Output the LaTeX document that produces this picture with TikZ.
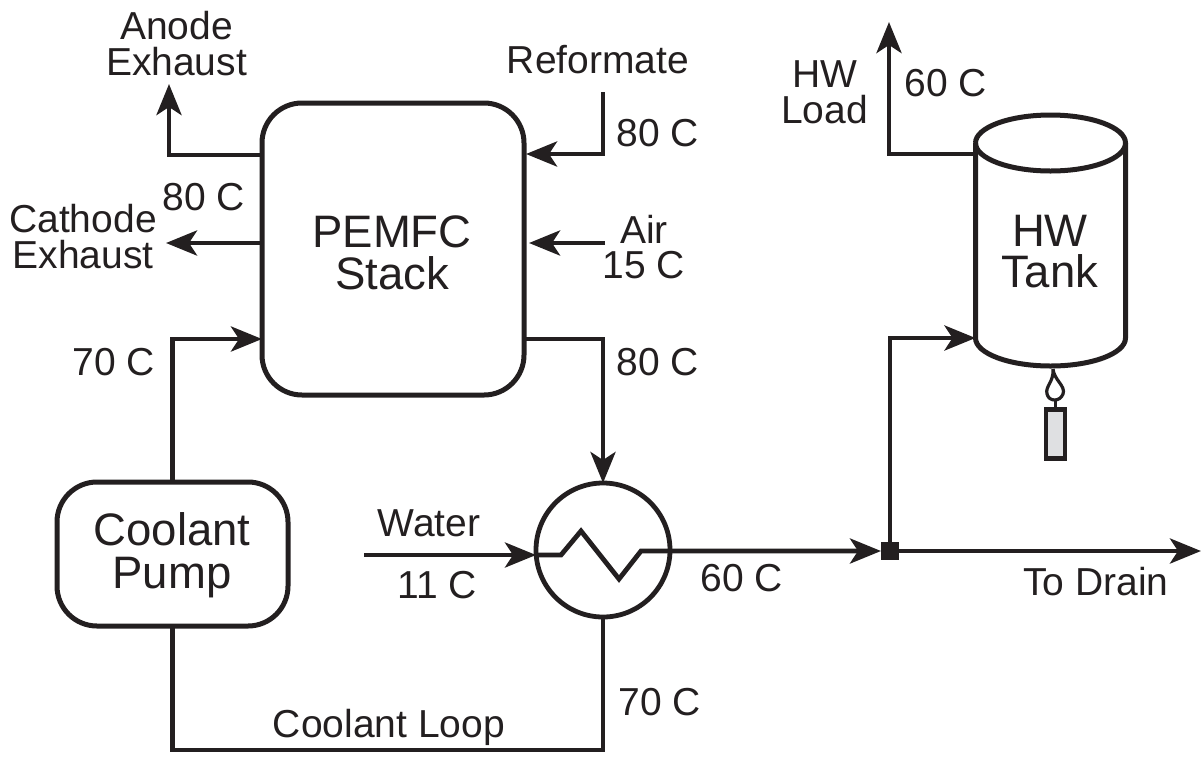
\documentclass[tikz,border=0pt]{standalone}
\usepackage{fontspec}
\setmainfont{Liberation Sans}
\usetikzlibrary{arrows.meta,calc}
\definecolor{ink}{HTML}{231F20}
\definecolor{candlefill}{HTML}{DFE0E2}
\tikzset{
  pipe/.style={line width=4.8pt,color=ink,line join=miter},
  flow/.style={pipe,-{Stealth[length=31pt,width=25pt,inset=8pt]}},
  unit/.style={draw=ink,line width=5pt,rounded corners=40pt,inner sep=0pt,outer sep=0pt},
  biglab/.style={inner sep=0pt,align=center,text=ink,font=\fontsize{45.5}{42.5}\selectfont},
  lab/.style={inner sep=0pt,align=center,text=ink,font=\fontsize{39}{36}\selectfont},
}
\begin{document}
\begin{tikzpicture}[x=1pt,y=-1pt]
\useasboundingbox (0,0) rectangle (1201,761);
% units
\node[unit,minimum width=262pt,minimum height=292pt] (stack) at (393,249) {};
\node[unit,minimum width=231pt,minimum height=144pt] (pump) at (172.5,554) {};
\node[draw=ink,line width=4.8pt,circle,minimum size=134pt,inner sep=0pt,outer sep=0pt] (hx) at (603,550) {};
\node[inner sep=0pt,outer sep=0pt,minimum width=150pt,minimum height=195pt] (tank) at (1050.5,240.5) {};
\node[fill=ink,inner sep=0pt,outer sep=0pt,minimum size=18pt] (junction) at (890,551) {};
\node[draw=ink,fill=candlefill,line width=4.8pt,minimum width=19pt,minimum height=49pt,inner sep=0pt] (candle) at (1055.5,434) {};
% tank outline
\draw[pipe,line width=5pt] (tank.north west) arc[start angle=180,end angle=-180,x radius=75pt,y radius=28pt];
\draw[pipe,line width=5pt] (tank.north east) -- (tank.south east) arc[start angle=0,end angle=-180,x radius=75pt,y radius=28pt] -- (tank.north west);
% flame
\draw[pipe,line width=3.2pt,line join=round] (1053,369) .. controls (1054,380) and (1066,386) .. (1063,394) .. controls (1060,402) and (1049,402) .. (1047,394) .. controls (1045,386) and (1054,382) .. (1053,369);
\draw[pipe,line width=3.2pt] (1055.5,401) -- (candle.north);
% free ends
\coordinate (anodeEnd) at (169,84);
\coordinate (cathodeEnd) at (166,243);
\coordinate (reformateStart) at (603,92);
\coordinate (airStart) at (605,243);
\coordinate (waterStart) at (364,555);
\coordinate (loadEnd) at (889,22);
\coordinate (drainEnd) at (1201,551);
% connectors
\draw[flow] (stack.west |- 0,155) -| (anodeEnd);
\draw[flow] (stack.west |- 0,243) -- (cathodeEnd);
\draw[flow] (reformateStart) |- ([xshift=2pt]stack.east |- 0,154);
\draw[flow] (airStart) -- ([xshift=5pt]stack.east |- 0,243);
\draw[flow] (pump.north) |- (stack.west |- 0,339);
\draw[flow] (stack.east |- 0,339) -| (hx.north);
\draw[flow] (waterStart) -- (hx.west |- 0,555);
\draw[pipe] (hx.south) -- (603,750) -- (172.5,750) -- (pump.south);
% exchanger coil
\draw[flow] (hx.west |- 0,555) -- (561,555) -- (581,531) -- (619,579) -- (641,551) -- (junction.west);
\draw[flow] (junction.east) -- (drainEnd);
\draw[flow] (junction.north) |- (tank.west |- 0,338);
\draw[flow] (tank.west |- 0,154) -| (loadEnd);
% labels
\node[biglab] (stackLab) at (392,253) {PEMFC\\Stack};
\node[biglab] (pumpLab) at (172,555) {Coolant\\Pump};
\node[biglab,font=\fontsize{45.5}{41}\selectfont] (tankLab) at (1050,252) {HW\\Tank};
\node[lab] (anodeLab) at (176.5,44) {Anode\\Exhaust};
\node[lab] (cathodeLab) at (83,237) {Cathode\\Exhaust};
\node[lab] (t1) at (204,197) {80 C};
\node[lab] (reformateLab) at (598,60) {Reformate};
\node[lab] (t2) at (658,133) {80 C};
\node[lab] (airLab) at (644,229) {Air};
\node[lab] (t3) at (644,265) {15 C};
\node[lab] (t4) at (658,362) {80 C};
\node[lab] (t5) at (114,362) {70 C};
\node[lab] (hwLab) at (824.5,92) {HW\\Load};
\node[lab] (t6) at (946,83) {60 C};
\node[lab] (waterLab) at (429,523) {Water};
\node[lab] (t7) at (437,585) {11 C};
\node[lab] (t8) at (742,578) {60 C};
\node[lab] (drainLab) at (1096,582) {To Drain};
\node[lab] (t9) at (660,702) {70 C};
\node[lab] (loopLab) at (389,727) {Coolant Loop};
\end{tikzpicture}
\end{document}
